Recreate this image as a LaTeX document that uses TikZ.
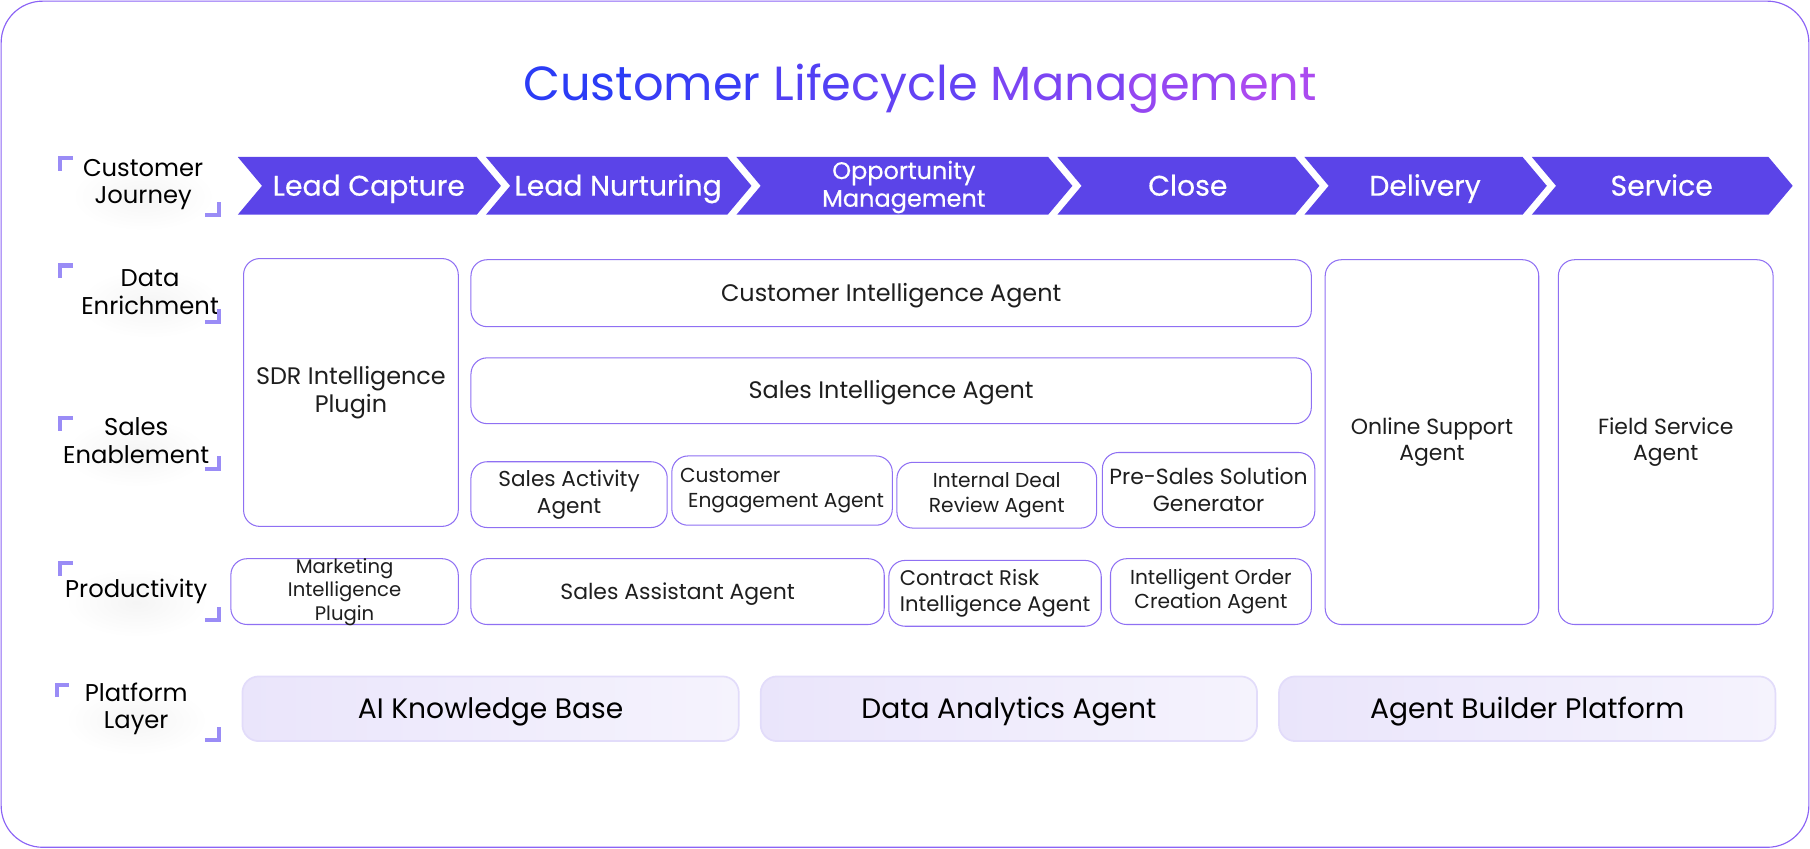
\documentclass[tikz,border=0pt]{standalone}
\usepackage{fontspec}
\setmainfont{Poppins}
\newfontfamily\stagefont{Poppins}[FakeBold=0.5]
\usetikzlibrary{positioning}
\definecolor{chevViolet}{HTML}{5B44E8}
\definecolor{lineViolet}{HTML}{8F70F3}
\definecolor{frameViolet}{HTML}{8B63F5}
\definecolor{titleBlue}{HTML}{2B3CF6}
\definecolor{titlePurple}{HTML}{B64BF0}
\definecolor{tagViolet}{HTML}{9A8CF6}
\definecolor{baseLeft}{HTML}{EAE5FB}
\definecolor{baseRight}{HTML}{F5F3FD}
\definecolor{baseLine}{HTML}{E2DCFA}
\definecolor{inkGray}{HTML}{1E1E1E}

% one stage of the journey arrow
\newcommand{\stage}[6]{%
  \fill[chevViolet] (#2,136) -- (#3,136) -- ({#3+21},161) -- (#3,186)
    -- (#2,186) -- ({#2+21},161) -- cycle;
  \node[stagetext, anchor=#5] (#1) at ({(#2+#3)/2+10},#4) {#6};}

% row label with its corner marks
\newcommand{\rowtag}[7]{%
  \shade[inner color=black!4, outer color=white] (#5,{#6+10}) ellipse (62 and 30);
  \node[tagtext] (#1) at (#5,#6) {#7};
  \draw[tagmark] (#2,{#3+11}) -- (#2,#3) -- ({#2+11},#3);
  \draw[tagmark] (178,#4) -- (190,#4) -- (190,{#4-11});}

\begin{document}
\begin{tikzpicture}[x=1pt, y=-1pt,
    stagetext/.style={text=white, align=center, font=\stagefont\fontsize{24.5}{28}\selectfont},
    tagtext/.style={text=black, align=center, font=\fontsize{21}{24}\selectfont},
    tagmark/.style={tagViolet, line width=3.5pt},
    box/.style={draw=lineViolet, line width=0.9pt, fill=white, rounded corners=14pt,
      inner sep=0pt, align=center, text=inkGray, font=\fontsize{19}{23}\selectfont},
    big/.style={font=\fontsize{20.7}{24}\selectfont},
    small/.style={font=\fontsize{17.5}{21}\selectfont},
    oneline/.style={text height=16pt, text depth=2pt},
    base/.style={draw=baseLine, line width=1.5pt, left color=baseLeft, right color=baseRight,
      rounded corners=14pt, minimum width=430pt, minimum height=56pt,
      text height=19pt, text depth=3pt,
      text=black, font=\fontsize{24.4}{28}\selectfont}]

  \useasboundingbox (0,0) rectangle (1568,735);
  \draw[frameViolet, line width=1pt, rounded corners=36pt] (1,1) rectangle (1567,734);

  % title
  \node[font=\fontsize{41.5}{48}\selectfont, anchor=base] (title) at (797,87) {%
    \textcolor{titleBlue}{Cust}\textcolor{titlePurple!10!titleBlue}{omer}
    \textcolor{titlePurple!28!titleBlue}{Life}\textcolor{titlePurple!40!titleBlue}{cycle}
    \textcolor{titlePurple!58!titleBlue}{Mana}\textcolor{titlePurple!76!titleBlue}{gem}\textcolor{titlePurple!92!titleBlue}{ent}};

  % journey stages
  \stage{capture}{206}{413}{169.5}{base}{Lead Capture}
  \stage{nurture}{421}{630}{169.5}{base}{Lead Nurturing}
  \stage{oppty}{638}{908}{162}{center, font=\stagefont\fontsize{20.8}{24}\selectfont}{Opportunity\\Management}
  \stage{close}{916}{1122}{169.5}{base}{Close}
  \stage{delivery}{1130}{1319}{169.5}{base}{Delivery}
  \stage{service}{1327}{1532}{169.5}{base}{Service}

  % row labels
  \rowtag{journey}{52}{137}{186}{124}{160}{Customer\\Journey}
  \rowtag{enrich}{52}{230}{279}{130}{253}{Data\\Enrichment}
  \rowtag{enable}{52}{362}{406}{118}{382}{Sales\\Enablement}
  \rowtag{product}{52}{488}{537}{118}{512}{Productivity}
  \rowtag{platform}{49}{593}{641}{118}{614}{Platform\\Layer}

  % agents
  \node[box, big, minimum width=186pt, minimum height=232pt] (sdr) at (304,340) {SDR Intelligence\\Plugin};
  \node[box, big, oneline, minimum width=728pt, minimum height=58pt] (custIntel) at (772,254) {Customer Intelligence Agent};
  \node[box, big, oneline, minimum width=728pt, minimum height=57pt] (salesIntel) at (772,338.5) {Sales Intelligence Agent};
  \node[box, font=\fontsize{18.7}{23}\selectfont, minimum width=170pt, minimum height=57pt] (activity) at (493,428.5) {Sales Activity\\Agent};
  \node[box, small, minimum width=191pt, minimum height=60pt, align=left] (engage) at (677.5,425) {Customer\\\hspace{7pt}Engagement Agent};
  \node[box, small, minimum width=173pt, minimum height=57pt] (dealReview) at (863.5,429) {Internal Deal\\Review Agent};
  \node[box, minimum width=184pt, minimum height=65pt] (presales) at (1047,424.5) {Pre-Sales Solution\\Generator};
  \node[box, minimum width=185pt, minimum height=316pt] (online) at (1240.5,383) {Online Support\\Agent};
  \node[box, minimum width=186pt, minimum height=316pt] (field) at (1443,383) {Field Service\\Agent};
  \node[box, minimum width=197pt, minimum height=57pt] (mkt) at (298.5,512.5) {};
  \node[text=inkGray, align=center, font=\fontsize{17}{20.5}\selectfont] (mktText) at (298.5,513) {Marketing\\Intelligence\\Plugin};
  \node[box, oneline, minimum width=358pt, minimum height=57pt] (assistant) at (587,512.5) {Sales Assistant Agent};
  \node[box, font=\fontsize{18.3}{23}\selectfont, minimum width=184pt, minimum height=57pt, align=left] (contract) at (862,514) {Contract Risk\\Intelligence Agent};
  \node[box, small, minimum width=174pt, minimum height=57pt] (order) at (1049,512.5) {Intelligent Order\\Creation Agent};

  % platform layer
  \node[base] (kb) at (425,614) {AI Knowledge Base};
  \node[base] (analytics) at (874,614) {Data Analytics Agent};
  \node[base] (builder) at (1323,614) {Agent Builder Platform};
\end{tikzpicture}
\end{document}
